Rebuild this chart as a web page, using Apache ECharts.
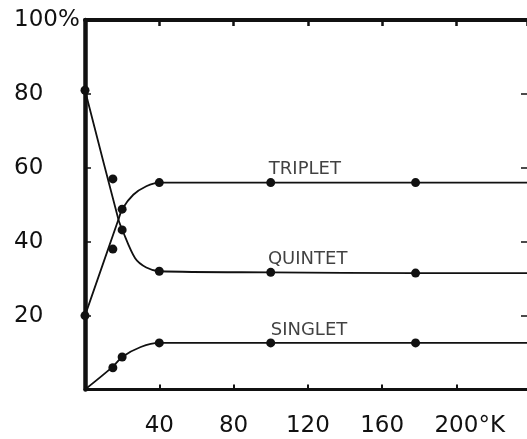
<!DOCTYPE html>
<html>
<head>
<meta charset="utf-8">
<script src="https://cdn.jsdelivr.net/npm/echarts@6/dist/echarts.min.js"></script>
<style>html,body{margin:0;padding:0;background:#fff;}#c{width:527px;height:439px;}</style>
</head>
<body>
<div id="c"></div>
<script>
// Curve shapes
const tripletCurve = [[0,20],[18,46],[20,48.8],[26,52.7],[33,55],[40,56],[100,56],[178,56],[238,56]];
const quintetCurve = [[0,81],[18,46],[20,43.3],[27,35.5],[33,33],[40,32],[100,31.7],[178,31.5],[238,31.5]];
const singletCurve = [[0,0],[15,6.2],[20,8.8],[30,11.5],[40,12.6],[100,12.6],[178,12.6],[238,12.6]];
// Measured points (dots)
const tripletPts = [[0,20],[15,38],[20,48.8],[40,56],[100,56],[178,56]];
const quintetPts = [[0,81],[15,57],[20,43.2],[40,32],[100,31.7],[178,31.5]];
const singletPts = [[15,5.9],[20,8.8],[40,12.6],[100,12.6],[178,12.6]];
// Curve labels
const curveLabels = [
  {name:'TRIPLET', value:[99,56]},
  {name:'QUINTET', value:[98.5,31.6]},
  {name:'SINGLET', value:[100,12.6]}
];
const xTickStep = 40, xMin = 0, xMax = 238;
const yTickStep = 20, yMin = 0, yMax = 100;

const font = 'DejaVu Sans';
const ink = '#111';
const chart = echarts.init(document.getElementById('c'), null, {renderer:'canvas'});

function lineSeries(data){
  return {type:'line', data:data, smooth:0.3, showSymbol:false, symbol:'none',
    lineStyle:{color:ink, width:1.8}, silent:true, z:3};
}
function dotSeries(data){
  return {type:'scatter', data:data, symbol:'circle', symbolSize:9,
    itemStyle:{color:ink, opacity:1}, silent:true, z:4};
}

chart.setOption({
  backgroundColor:'#fff',
  animation:false,
  grid:{left:85, right:0, top:20, bottom:49.5, containLabel:false},
  xAxis:[{
    type:'value', min:xMin, max:xMax, interval:xTickStep, position:'bottom',
    axisLine:{show:true, onZero:false, lineStyle:{color:ink, width:3}},
    axisTick:{show:true, inside:true, length:5, lineStyle:{color:ink, width:2}},
    splitLine:{show:false},
    axisLabel:{
      show:true, margin:25, color:ink, fontFamily:font, fontSize:23, showMaxLabel:false,
      formatter:function(v){
        if(v===0||v>=238) return '';
        if(v===200) return '{h|°K}200{k|°K}';
        return String(v);
      },
      rich:{
        h:{color:'rgba(0,0,0,0)', fontFamily:font, fontSize:23},
        k:{color:ink, fontFamily:font, fontSize:23}
      }
    }
  },{
    type:'value', min:xMin, max:xMax, interval:xTickStep, position:'top',
    axisLine:{show:true, onZero:false, lineStyle:{color:ink, width:4}},
    axisTick:{show:true, inside:true, length:6, lineStyle:{color:ink, width:2.5}},
    splitLine:{show:false}, axisLabel:{show:false}
  }],
  yAxis:[{
    type:'value', min:yMin, max:yMax, interval:yTickStep, position:'left',
    axisLine:{show:true, onZero:false, lineStyle:{color:ink, width:4.5}},
    axisTick:{show:true, inside:true, length:6, lineStyle:{color:ink, width:1.5}},
    splitLine:{show:false},
    axisLabel:{
      show:true, margin:71, align:'left', color:ink, fontFamily:font, fontSize:23,
      formatter:function(v){
        if(v===0) return '';
        if(v===100) return '100%';
        return String(v);
      }
    }
  },{
    type:'value', min:yMin, max:yMax, interval:yTickStep, position:'right',
    axisLine:{show:false, onZero:false},
    axisTick:{show:true, inside:true, length:6, lineStyle:{color:ink, width:1.5}},
    splitLine:{show:false}, axisLabel:{show:false}
  }],
  series:[
    lineSeries(tripletCurve),
    lineSeries(quintetCurve),
    lineSeries(singletCurve),
    dotSeries(tripletPts),
    dotSeries(quintetPts),
    dotSeries(singletPts),
    {
      type:'scatter', data:curveLabels, symbolSize:0, itemStyle:{color:'rgba(0,0,0,0)'}, silent:true, z:5,
      label:{show:true, formatter:'{b}', position:[0,-4], align:'left', verticalAlign:'bottom',
        color:ink, fontFamily:font, fontSize:18}
    }
  ]
});
</script>
</body>
</html>
